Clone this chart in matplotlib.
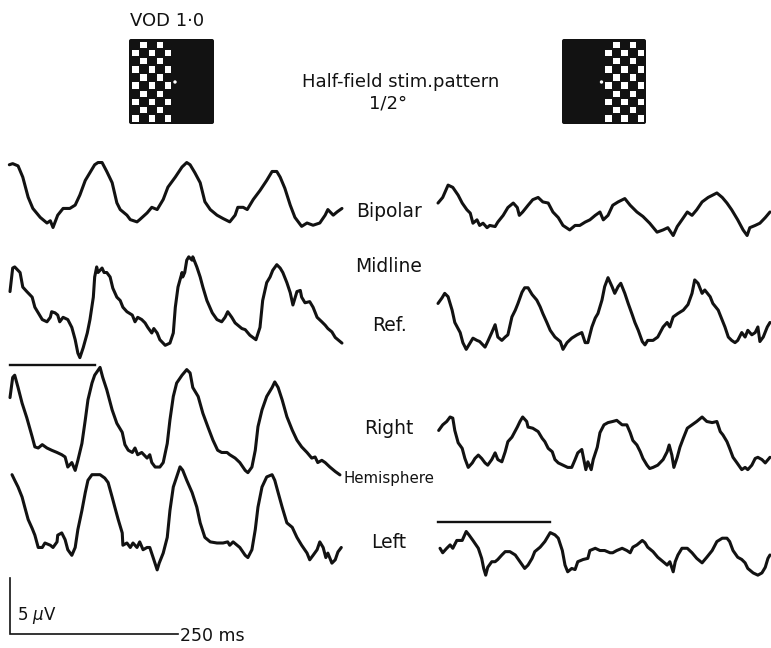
import numpy as np
import matplotlib
matplotlib.use("Agg")
import matplotlib.pyplot as plt
from matplotlib.patches import Rectangle, FancyBboxPatch, Circle

plt.rcParams['font.family'] = ['DejaVu Sans']

# ---------------- calibration (from the scale bars) ----------------
W, H = 771, 648
PX_PER_UV = 11.2      # 5 uV bar
PX_PER_MS = 0.672     # 250 ms bar
cal_uv = 5
cal_ms = 250
stim_bar_ms_left = 127
stim_bar_ms_right = 167

# ---------------- data: time (ms) and amplitude (uV) ----------------
# Left column (VOD 1.0, left half-field)
bip_L_t = [-1,4,12,19,27,34,45,55,60,64,71,79,89,97,104,112,119,126,131,137,144,152,159,164,174,179,189,193,204,211,219,228,235,246,256,263,268,275,283,290,298,308,317,327,335,339,347,353,362,372,382,390,397,402,409,417,424,434,442,451,461,469,473,481,487,494]
bip_L_v = [2.7,2.8,2.6,1.6,-0.2,-1.2,-2.0,-2.5,-2.3,-2.9,-1.8,-1.2,-1.2,-0.9,0.0,1.3,2.0,2.7,2.9,2.9,2.1,1.1,-0.7,-1.3,-1.8,-2.2,-2.4,-2.2,-1.6,-1.1,-1.3,-0.4,0.7,1.6,2.5,2.9,2.7,2.0,1.1,-0.6,-1.3,-1.8,-2.1,-2.4,-1.8,-1.1,-1.1,-1.3,-0.4,0.4,1.3,2.1,2.1,1.6,0.6,-0.9,-2.0,-2.8,-2.5,-2.7,-2.5,-1.8,-1.3,-1.8,-1.5,-1.2]

ref_L_t = [0,4,7,15,19,25,33,37,42,48,55,60,62,67,71,74,79,86,92,97,101,104,109,115,119,124,126,129,131,137,140,144,149,153,159,164,168,174,182,186,190,196,201,205,211,214,219,223,231,238,243,246,250,256,257,260,263,266,271,272,278,283,287,293,301,308,315,320,324,330,335,339,345,350,357,366,372,376,382,387,391,397,402,406,412,417,421,427,432,434,439,446,451,457,464,469,473,479,484,488,494]
ref_L_v = [1.2,3.3,3.4,2.9,1.6,1.2,0.7,-0.2,-0.7,-1.3,-1.5,-1.1,-0.6,-0.7,-0.9,-1.5,-1.1,-1.3,-2.0,-3.1,-4.3,-4.7,-3.8,-2.5,-1.3,0.7,2.5,3.4,2.9,3.3,2.9,2.9,2.5,1.5,0.7,0.4,-0.2,-0.6,-0.9,-1.5,-1.1,-1.3,-1.6,-2.0,-2.5,-2.1,-2.5,-3.1,-3.6,-3.4,-2.5,-0.2,1.6,2.9,2.5,2.9,4.0,4.3,4.0,4.3,3.4,2.5,1.6,0.4,-0.7,-1.3,-1.5,-1.1,-0.6,-1.1,-1.6,-1.8,-2.1,-2.2,-2.7,-3.1,-2.0,0.4,2.0,2.5,3.1,3.6,3.3,2.9,2.0,1.1,0.0,1.2,1.3,0.7,0.2,0.3,-0.2,-1.1,-1.5,-1.8,-2.1,-2.4,-2.9,-3.1,-3.4]

rh_L_t = [0,4,7,12,18,25,33,37,42,48,55,62,70,77,82,86,92,97,101,107,112,116,122,126,134,138,144,152,159,167,171,176,182,186,190,196,204,208,211,216,223,228,234,238,243,248,256,263,268,272,280,287,295,302,309,315,323,327,335,342,350,354,360,365,369,375,382,390,394,399,405,412,420,427,434,442,449,454,458,464,469,476,484,491]
rh_L_v = [2.0,3.8,4.0,2.9,1.5,0.2,-1.5,-2.4,-2.5,-2.2,-2.5,-2.7,-2.9,-3.1,-3.3,-4.2,-3.8,-4.5,-3.6,-2.1,0.0,1.8,3.3,4.0,4.7,3.8,2.7,0.9,-0.3,-1.1,-2.2,-2.7,-2.9,-2.5,-3.1,-2.9,-3.4,-3.1,-3.8,-4.2,-4.2,-3.8,-2.1,0.0,2.1,3.3,4.0,4.5,4.2,2.9,2.1,0.6,-0.7,-1.8,-2.7,-2.9,-2.9,-3.1,-3.4,-3.8,-4.5,-4.7,-4.2,-2.7,-0.6,0.9,2.1,2.9,3.4,2.9,1.8,0.3,-0.9,-1.8,-2.4,-2.9,-3.4,-3.3,-3.8,-3.6,-3.8,-4.2,-4.6,-4.9]

lh_L_t = [3,7,12,18,22,27,33,37,42,48,52,60,64,70,71,77,82,86,92,97,101,107,112,116,122,126,134,141,146,152,156,161,167,168,174,179,183,189,193,198,204,208,213,219,222,228,234,238,243,248,253,257,263,271,278,283,290,298,308,317,324,327,332,338,342,350,354,360,365,369,375,382,390,394,399,405,412,420,427,434,442,446,451,457,461,466,470,473,479,484,488,493]
lh_L_v = [3.6,3.1,2.5,1.6,0.7,-0.4,-1.2,-1.8,-2.9,-2.9,-2.5,-2.7,-2.9,-2.4,-1.8,-1.6,-2.2,-3.1,-3.6,-2.9,-1.3,0.4,2.0,3.1,3.6,3.6,3.6,3.3,2.9,1.6,0.7,-0.4,-1.6,-2.7,-2.5,-2.9,-2.5,-2.9,-2.4,-3.1,-2.9,-2.9,-3.8,-4.9,-4.3,-3.4,-2.0,0.4,2.5,3.4,4.3,4.0,3.1,2.0,0.7,-0.7,-2.0,-2.4,-2.5,-2.5,-2.4,-2.7,-2.4,-2.7,-2.9,-3.6,-3.8,-3.1,-1.3,0.7,2.5,3.4,3.6,3.1,2.0,0.7,-0.7,-1.1,-2.0,-2.7,-3.4,-4.0,-3.6,-3.1,-2.4,-2.9,-3.8,-3.4,-4.3,-4.0,-3.3,-2.9]

# Right column (right half-field)
bip_R_t = [0,7,15,22,30,36,43,48,52,58,62,67,73,77,85,89,97,104,112,118,121,126,134,141,149,156,164,171,179,186,196,204,211,219,226,234,241,246,253,260,268,278,286,296,305,315,326,335,342,350,356,363,371,378,385,393,402,415,423,430,437,446,454,460,464,472,479,487,494]
bip_R_v = [0.8,1.3,2.4,2.2,1.5,0.8,0.2,-0.1,-1.0,-0.7,-1.2,-1.0,-1.4,-1.2,-1.3,-0.9,-0.3,0.4,0.8,0.4,-0.3,0.0,0.6,1.1,1.3,0.9,0.8,0.0,-0.5,-1.2,-1.6,-1.2,-1.2,-0.9,-0.7,-0.3,0.0,-0.7,-0.3,0.6,0.9,1.2,0.6,0.0,-0.4,-1.0,-1.8,-1.6,-1.4,-2.1,-1.3,-0.7,0.0,-0.3,0.2,0.9,1.3,1.7,1.3,0.8,0.2,-0.7,-1.6,-2.1,-1.4,-1.2,-1.0,-0.5,0.0]

ref_R_t = [0,6,10,15,21,25,33,37,42,48,52,58,62,70,74,80,85,89,95,100,104,110,115,119,125,129,134,140,147,152,156,162,167,174,182,186,192,199,207,214,219,223,229,234,238,244,248,253,259,263,268,272,278,283,289,293,298,304,308,312,320,327,335,341,345,350,357,365,372,378,382,387,393,397,405,409,417,423,427,432,437,442,446,452,457,461,467,472,476,479,484,490,494]
ref_R_v = [1.3,1.8,2.2,1.9,0.7,-0.4,-1.3,-2.2,-2.8,-2.2,-1.8,-2.0,-2.1,-2.6,-2.1,-1.3,-0.6,-1.7,-2.0,-1.7,-1.5,0.1,0.7,1.3,2.3,2.7,2.7,2.1,1.6,1.0,0.4,-0.4,-1.1,-1.7,-2.1,-2.8,-2.2,-1.8,-1.5,-1.3,-2.2,-2.2,-0.8,0.0,0.4,1.6,2.8,3.6,2.8,2.2,2.8,3.1,2.2,1.3,0.3,-0.4,-1.1,-2.1,-2.4,-2.0,-2.0,-1.7,-0.8,-0.4,-0.8,0.1,0.4,0.7,1.2,2.2,3.4,3.1,2.2,2.5,1.9,1.3,0.7,-0.2,-0.8,-1.7,-2.0,-2.2,-2.0,-1.3,-1.7,-1.1,-1.5,-1.3,-0.8,-2.1,-1.7,-0.8,-0.4]

rh_R_t = [1,7,13,18,22,25,30,36,40,45,51,55,60,65,70,74,80,85,89,95,100,104,110,118,122,126,132,134,141,149,155,159,164,170,174,179,186,193,199,204,208,214,217,220,223,228,231,237,241,247,253,260,266,274,281,286,290,296,301,305,311,315,320,327,335,341,344,348,351,356,360,365,371,378,385,393,400,408,415,420,424,430,434,439,445,452,457,461,467,472,476,482,487,494]
rh_R_v = [1.3,1.8,2.1,2.5,2.4,1.3,0.2,-0.3,-1.2,-2.0,-1.6,-1.2,-0.9,-1.2,-1.6,-1.8,-1.3,-0.7,-1.3,-1.5,-0.6,0.3,0.7,1.6,2.1,2.5,2.1,1.6,1.5,1.2,0.6,0.3,-0.3,-0.6,-1.3,-1.6,-1.8,-2.0,-2.0,-1.3,-0.7,-0.4,-1.3,-2.2,-1.5,-2.2,-1.3,-0.2,1.1,1.8,2.0,2.1,2.2,1.8,1.8,1.1,0.4,0.0,-0.6,-1.2,-1.8,-2.1,-2.0,-1.8,-1.3,-0.6,0.0,-0.9,-2.0,-1.1,-0.2,0.6,1.5,1.8,2.1,2.5,2.1,2.0,2.1,1.2,0.9,0.3,-0.3,-1.1,-1.6,-2.2,-2.0,-2.2,-1.8,-1.2,-1.1,-1.3,-1.6,-1.1]

lh_R_t = [3,7,13,18,22,28,36,42,46,52,60,65,68,71,74,80,85,89,95,100,107,115,122,129,134,140,144,152,159,167,174,179,185,189,193,199,204,208,216,223,226,234,241,248,256,260,266,274,281,286,290,296,304,308,312,320,327,335,341,345,350,353,357,363,371,378,385,393,400,408,415,423,430,434,439,446,452,457,461,469,476,482,487,491,494]
lh_R_v = [0.6,0.2,0.6,0.9,0.6,1.3,1.3,2.1,1.8,1.3,0.6,-0.3,-1.2,-1.8,-1.1,-0.6,-0.6,-0.4,0.0,0.3,0.3,0.0,-0.6,-1.2,-0.9,-0.3,0.3,0.7,1.2,2.0,1.8,1.5,0.4,-0.9,-1.5,-1.2,-1.3,-0.6,-0.4,-0.3,0.4,0.6,0.4,0.4,0.2,0.2,0.4,0.6,0.4,0.2,0.7,0.9,1.3,1.1,0.7,0.3,-0.2,-0.6,-0.9,-0.6,-1.5,-0.6,0.0,0.6,0.6,0.2,-0.3,-0.7,-0.2,0.4,1.2,1.5,1.5,1.2,0.4,-0.2,-0.4,-0.7,-1.2,-1.6,-1.8,-1.6,-1.1,-0.3,0.0]

trace_labels = ["Bipolar", "Midline", "Ref.", "Right", "Hemisphere", "Left"]

# ---------------- layout ----------------
INK = "#121212"
LEFT_X0, RIGHT_X0 = 10, 438          # px where t = 0 for each column
left_bases = [195, 305, 420, 515]    # px baselines of the four rows
right_bases = [212, 318, 445, 555]

fig = plt.figure(figsize=(W / 100, H / 100), dpi=100)
fig.patch.set_facecolor("white")

def trace_axes(x0_px):
    ax = fig.add_axes([0, 0, 1, 1])
    ax.set_xlim(-x0_px / PX_PER_MS, (W - x0_px) / PX_PER_MS)
    ax.set_ylim(0, H / PX_PER_UV)
    ax.axis("off")
    ax.patch.set_alpha(0)
    return ax

axL = trace_axes(LEFT_X0)
axR = trace_axes(RIGHT_X0)

def off(base_px):
    return (H - base_px) / PX_PER_UV

def draw(ax, t, v, base_px):
    n = min(len(t), len(v))
    ax.plot(np.array(t[:n]), np.array(v[:n]) + off(base_px), color=INK,
            lw=2.2, solid_joinstyle="round", solid_capstyle="round")

for (t, v), b in zip([(bip_L_t, bip_L_v), (ref_L_t, ref_L_v),
                      (rh_L_t, rh_L_v), (lh_L_t, lh_L_v)], left_bases):
    draw(axL, t, v, b)
for (t, v), b in zip([(bip_R_t, bip_R_v), (ref_R_t, ref_R_v),
                      (rh_R_t, rh_R_v), (lh_R_t, lh_R_v)], right_bases):
    draw(axR, t, v, b)

# stimulus marker bars
axL.plot([0, stim_bar_ms_left], [off(365)] * 2, color=INK, lw=1.7)
axR.plot([0, stim_bar_ms_right], [off(522)] * 2, color=INK, lw=1.7)

# calibration bars
cy = off(634)
axL.plot([0, 0, cal_ms], [cy + cal_uv, cy, cy], color=INK, lw=1.2,
         solid_joinstyle="miter")

# ---------------- overlay (pixel coordinates) ----------------
ov = fig.add_axes([0, 0, 1, 1])
ov.set_xlim(0, W)
ov.set_ylim(H, 0)
ov.axis("off")
ov.patch.set_alpha(0)

def board(x_left, x_right, y_top, y_bot, check_x0, dot_x):
    ov.add_patch(FancyBboxPatch((x_left, y_top), x_right - x_left, y_bot - y_top,
                                boxstyle="round,pad=0,rounding_size=2",
                                fc=INK, ec="none"))
    pitch, sq = 8.17, 6.5
    for i in range(10):
        for j in range(5):
            if (i + j) % 2 == 1:
                ov.add_patch(Rectangle((check_x0 + j * pitch, 41.5 + i * pitch),
                                       sq, sq, fc="white", ec="none"))
    ov.add_patch(Circle((dot_x, 82), 1.7, fc="white", ec="none"))

board(129, 214, 39, 124, 132.3, 175)
board(562, 646, 39, 124, 605, 601.5)

ov.text(130, 26, "VOD 1·0", fontsize=13, color=INK, ha="left", va="baseline")
ov.text(401, 87, "Half-field stim.pattern", fontsize=13, color=INK,
        ha="center", va="baseline")
ov.text(388, 108, "1/2°", fontsize=13, color=INK, ha="center", va="baseline")

label_pos = [(217, 13.5), (272, 13.5), (331, 13.5), (434, 13.5), (483, 10.8), (548, 13.5)]
for lab, (yb, fs) in zip(trace_labels, label_pos):
    ov.text(389, yb, lab, fontsize=fs, color=INK, ha="center", va="baseline")

ov.text(17, 620, "5 $\\mu$V", fontsize=12, color=INK, ha="left", va="baseline")
ov.text(180, 641, "250 ms", fontsize=12.5, color=INK, ha="left", va="baseline")

fig.savefig("out.png", dpi=100, facecolor="white")
